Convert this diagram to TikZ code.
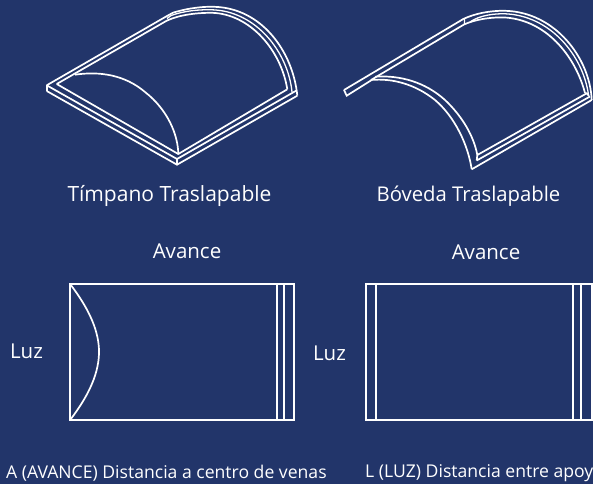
\documentclass[tikz,border=0pt]{standalone}
\usepackage{fontspec}
\setmainfont{Open Sans}
\definecolor{bgblue}{HTML}{22356A}
\tikzset{
  ln/.style={draw=white,line width=1.7pt,line join=miter},
  thin ln/.style={draw=white,line width=1.3pt},
  lbl/.style={text=white,font=\fontsize{20.5pt}{24pt}\selectfont,inner sep=0pt},
  captext/.style={text=white,font=\fontsize{21pt}{25pt}\selectfont,inner sep=0pt},
  captextb/.style={text=white,font=\fontsize{20.3pt}{25pt}\selectfont,inner sep=0pt},
  note/.style={text=white,font=\fontsize{17.6pt}{21pt}\selectfont,inner sep=0pt,anchor=west},
}
\begin{document}
\begin{tikzpicture}[x=1pt,y=-1pt]
\useasboundingbox (0,0) rectangle (593,484);
\clip (0,0) rectangle (593,484);
\fill[bgblue] (0,0) rectangle (593,484);
% Timpano
\draw[ln] (46.7,91) -- (177,164.7) -- (297.3,95.7);
\draw[ln] (46.7,85.3) -- (46.7,91);
\draw[ln] (177,159) -- (177,164.7);
\draw[ln] (46.7,85.3) -- (177,159) -- (296.5,90.5);
\draw[ln] (56.7,84) -- (178.3,154) -- (287.3,89.3);
\draw[ln] (46.7,85.3) -- (167,16) -- (173,12.7)
  .. controls (190,7.5) and (205,6.5) .. (214,6.8)
  .. controls (262,8) and (293,52) .. (297.3,95.7);
\draw[ln] (56.7,84) -- (166.7,20.7) .. controls (180,14.5) and (198,12.7) .. (212,12.8)
  .. controls (250,14) and (281,50) .. (287.3,89.3);
\draw[thin ln] (167,18.5) -- (171,15.5) .. controls (185,10.5) and (200,9.5) .. (212,9.8)
  .. controls (256,11) and (288,52) .. (292,92);
\draw[ln] (75,74.7) .. controls (100,71) and (125,75) .. (145,92)
  .. controls (168,110) and (178,135) .. (178.3,154);
% Boveda
\draw[ln] (344,90) -- (346.7,95.7) -- (371.7,80);
\draw[ln] (344,90) -- (463.3,19) .. controls (475,13.5) and (490,10.5) .. (505,10.8)
  .. controls (555,12) and (590,58) .. (591.7,100);
\draw[ln] (371,80) -- (464,24.5) .. controls (475,19.5) and (490,17.2) .. (503,17.4)
  .. controls (545,19) and (575,55) .. (585,93);
\draw[thin ln] (464.5,19) -- (464.5,24.5) (470,22) .. controls (480,15) and (495,13.5) .. (505,13.8)
  .. controls (550,15.5) and (583,55) .. (588.5,95);
\draw[ln] (371,80) .. controls (392,78) and (415,84) .. (435,100)
  .. controls (455,117) and (468,145) .. (471.7,169.3);
\draw[ln] (375,76.7) .. controls (400,75) and (425,82) .. (445,100)
  .. controls (463,117) and (474,137) .. (477.3,155);
\draw[ln] (471.7,169.3) -- (591.7,100);
\draw[ln] (477.3,155) -- (586.7,93.3) -- (589,96);
\draw[ln] (476.7,160.5) -- (590,96.5);
\draw[ln] (477.3,155) -- (476.7,160.5);
% Plan left
\draw[ln] (70.3,284.3) rectangle (294,419.7);
\draw[ln] (276.7,284.3) -- (276.7,419.7);
\draw[ln] (284,284.3) -- (284,419.7);
\draw[ln] (70.3,284.3) .. controls (90,310) and (99,332) .. (99,351.7)
  .. controls (99,372) and (90,394) .. (70.3,419.7);
% Plan right
\draw[ln] (365.7,284.3) rectangle (591.7,419.7);
\draw[ln] (376.3,284.3) -- (376.3,419.7);
\draw[ln] (572.7,284.3) -- (572.7,419.7);
\draw[ln] (580.7,284.3) -- (580.7,419.7);
% Text
\node[captext] (t1) at (169.5,196) {Tímpano Traslapable};
\node[captextb] (t2) at (468.5,196) {Bóveda Traslapable};
\node[lbl] (a1) at (187,251) {Avance};
\node[lbl] (a2) at (486,252) {Avance};
\node[lbl] (l1) at (26.5,351) {Luz};
\node[lbl] (l2) at (329.5,353) {Luz};
\node[note] (n1) at (6,473.5) {A (AVANCE) Distancia a centro de venas};
\node[note] (n2) at (365,473.5) {L (LUZ) Distancia entre apoyos};
\end{tikzpicture}
\end{document}
